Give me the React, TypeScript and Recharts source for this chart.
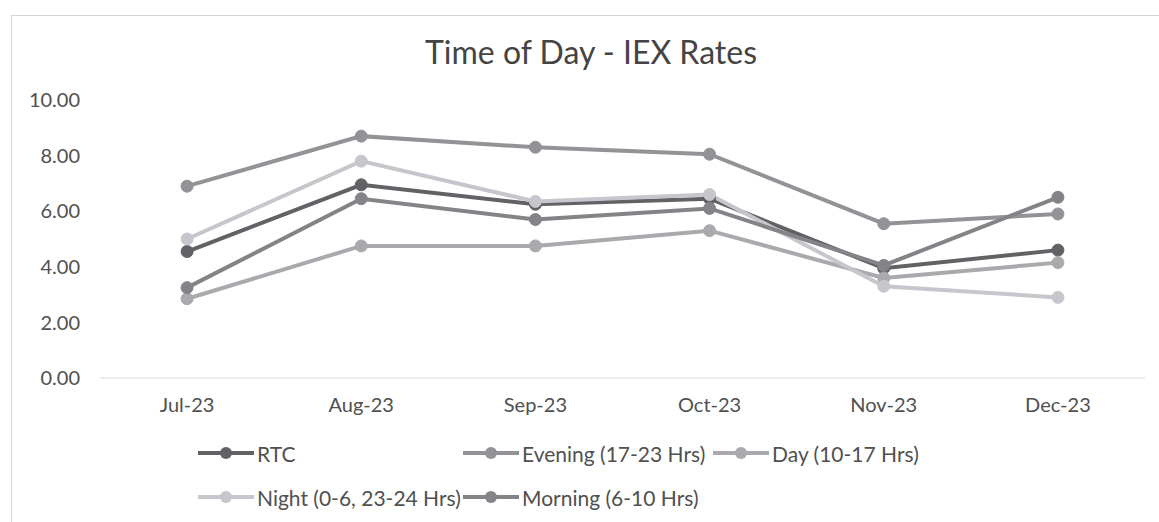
import { LineChart, Line, XAxis, YAxis } from "recharts"

// IEX time-of-day rates
const months = ["Jul-23", "Aug-23", "Sep-23", "Oct-23", "Nov-23", "Dec-23"]
const rtc = [4.55, 6.95, 6.25, 6.45, 3.95, 4.6]
const evening = [6.9, 8.7, 8.3, 8.05, 5.55, 5.9]
const day = [2.85, 4.75, 4.75, 5.3, 3.6, 4.15]
const night = [5.0, 7.8, 6.35, 6.6, 3.3, 2.9]
const morning = [3.25, 6.45, 5.7, 6.1, 4.05, 6.5]
const yTicks = [0, 2, 4, 6, 8, 10]

const series = [
  { key: "rtc", name: "RTC", values: rtc, color: "#626266" },
  { key: "evening", name: "Evening (17-23 Hrs)", values: evening, color: "#929297" },
  { key: "day", name: "Day (10-17 Hrs)", values: day, color: "#a9a9ae" },
  { key: "night", name: "Night (0-6, 23-24 Hrs)", values: night, color: "#c6c6cc" },
  { key: "morning", name: "Morning (6-10 Hrs)", values: morning, color: "#838388" },
]

const data = months.map((m, i) => {
  const row: Record<string, string | number> = { month: m }
  series.forEach((s) => (row[s.key] = s.values[i]))
  return row
})

const font = "Lato, 'Open Sans', sans-serif"
const textColor = "#505050"

function LegendIcon({ color }: { color: string }) {
  return (
    <svg width={56} height={14} style={{ marginRight: 3 }}>
      <line x1={0} y1={7} x2={56} y2={7} stroke={color} strokeWidth={4} />
      <circle cx={28} cy={7} r={6} fill={color} />
    </svg>
  )
}

export default function App() {
  return (
    <div
      style={{
        position: "absolute",
        left: 0,
        top: 0,
        width: 1159,
        height: 522,
        background: "#fff",
        overflow: "hidden",
        fontFamily: font,
      }}
    >
      {/* chart frame */}
      <div
        style={{
          position: "absolute",
          left: 11,
          top: 15,
          width: 1200,
          height: 600,
          borderLeft: "1px solid #d4d4d4",
          borderTop: "1px solid #d4d4d4",
        }}
      />
      <div
        style={{
          position: "absolute",
          left: 0,
          width: 1182,
          top: 32,
          textAlign: "center",
          fontSize: 32,
          color: "#444",
        }}
      >
        Time of Day - IEX Rates
      </div>
      <div style={{ position: "absolute", left: 0, top: 0 }}>
        <LineChart
          width={1159}
          height={522}
          data={data}
          margin={{ top: 100, right: 14, left: 10, bottom: 114 }}
        >
          <XAxis
            dataKey="month"
            scale="band"
            tickLine={false}
            axisLine={{ stroke: "#d9d9d9" }}
            tickMargin={14}
            tick={{ fill: textColor, fontSize: 20, fontFamily: font }}
          />
          <YAxis
            domain={[0, 10]}
            ticks={yTicks}
            width={90}
            axisLine={false}
            tickLine={false}
            tickSize={0}
            tickMargin={20}
            tickFormatter={(v: number) => v.toFixed(2)}
            tick={{ fill: textColor, fontSize: 20, fontFamily: font }}
          />
          {series.map((s) => (
            <Line
              key={s.key}
              dataKey={s.key}
              name={s.name}
              stroke={s.color}
              strokeWidth={4}
              dot={{ r: 6, fill: s.color, stroke: s.color, strokeWidth: 1 }}
              isAnimationActive={false}
            />
          ))}
        </LineChart>
      </div>
      {/* legend */}
      <div
        style={{
          position: "absolute",
          left: 198,
          top: 431,
          display: "grid",
          gridTemplateColumns: "265px 250px auto",
          fontSize: 21,
          color: textColor,
        }}
      >
        {series.map((s) => (
          <div key={s.key} style={{ display: "flex", alignItems: "center", height: 44, whiteSpace: "nowrap" }}>
            <LegendIcon color={s.color} />
            <span>{s.name}</span>
          </div>
        ))}
      </div>
    </div>
  )
}
